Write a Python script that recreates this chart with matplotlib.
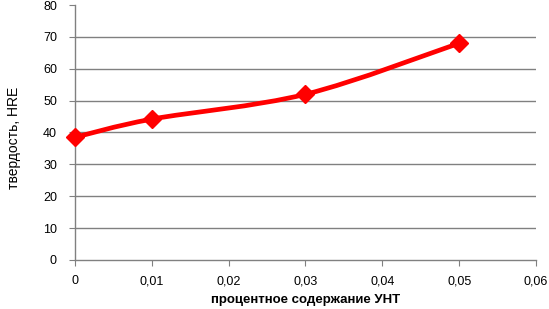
import matplotlib
matplotlib.use("Agg")
from matplotlib import pyplot as plt
from matplotlib.path import Path
from matplotlib.patches import PathPatch
from matplotlib.ticker import FuncFormatter

# данные
content = [0.0, 0.01, 0.03, 0.05]
hardness = [38.5, 44.2, 52.0, 68.0]
x_ticks = [0, 0.01, 0.02, 0.03, 0.04, 0.05, 0.06]
y_ticks = [0, 10, 20, 30, 40, 50, 60, 70, 80]

plt.rcParams['font.family'] = ['Liberation Sans', 'DejaVu Sans']

fig = plt.figure(figsize=(5.49, 3.09), dpi=100)
ax = fig.add_axes([0.1366, 0.1586, 0.8397, 0.8252])

# сглаженная линия (как в Excel) -- кривые Безье через точки
def smooth_path(xs, ys, t=1/6):
    verts = [(xs[0], ys[0])]
    codes = [Path.MOVETO]
    n = len(xs)
    for i in range(n - 1):
        x0, y0 = xs[max(i - 1, 0)], ys[max(i - 1, 0)]
        x1, y1 = xs[i], ys[i]
        x2, y2 = xs[i + 1], ys[i + 1]
        x3, y3 = xs[min(i + 2, n - 1)], ys[min(i + 2, n - 1)]
        c1 = (x1 + (x2 - x0) * t, y1 + (y2 - y0) * t)
        c2 = (x2 - (x3 - x1) * t, y2 - (y3 - y1) * t)
        verts += [c1, c2, (x2, y2)]
        codes += [Path.CURVE4] * 3
    return Path(verts, codes)

ax.add_patch(PathPatch(smooth_path(content, hardness), facecolor='none',
                       edgecolor='#ff0000', lw=3.4, zorder=3,
                       capstyle='round', joinstyle='round'))
ax.plot(content, hardness, linestyle='none', marker='D', markersize=9,
        color='#ff0000', zorder=4, clip_on=False)

ax.set_xlim(0, 0.06)
ax.set_ylim(0, 80)
ax.set_xticks(x_ticks)
ax.set_yticks(y_ticks)
ax.xaxis.set_major_formatter(FuncFormatter(
    lambda v, p: '0' if v == 0 else ('%.2f' % v).replace('.', ',')))

for y in y_ticks[1:-1]:
    ax.axhline(y, color='#808080', lw=1.0, zorder=1)

for s in ['top', 'right']:
    ax.spines[s].set_visible(False)
for s in ['left', 'bottom']:
    ax.spines[s].set_color('#808080')
    ax.spines[s].set_linewidth(1.0)

ax.tick_params(axis='both', direction='out', length=4, color='#808080',
               labelsize=9, labelcolor='black')
ax.tick_params(axis='x', pad=7)
ax.tick_params(axis='y', pad=9)

ax.set_xlabel('процентное содержание УНТ', fontsize=9.5, fontweight='bold')
ax.xaxis.set_label_coords(0.5, -0.135)
ax.set_ylabel('твердость, HRE', fontsize=10)
ax.yaxis.set_label_coords(-0.118, 0.48)

fig.savefig('out.png', dpi=100)
